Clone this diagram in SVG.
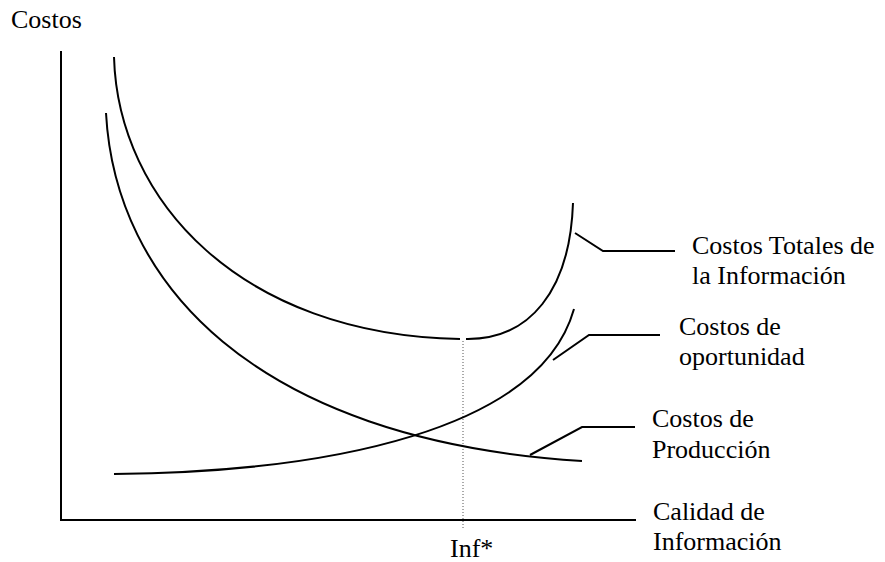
<svg xmlns="http://www.w3.org/2000/svg" width="885" height="562" viewBox="0 0 885 562">
<style>
.t{font-family:"Liberation Serif","Times New Roman",serif;font-size:26px;fill:#000}
.c{fill:none;stroke:#000;stroke-width:2}
.l{fill:none;stroke:#000;stroke-width:2}
</style>
<rect width="885" height="562" fill="#fff"/>
<g id="axes">
<path class="c" d="M61 51 V520 H636"/>
<text class="t" x="11" y="28">Costos</text>
</g>
<g id="connectors">
<path class="l" d="M575 233 L603 251 H675"/>
<path class="l" d="M553 360 L589 335 H660"/>
<path class="l" d="M530 455 L582 427 H635"/>
<path d="M463 341 V530" fill="none" stroke="#555" stroke-width="1" stroke-dasharray="1,2"/>
</g>
<g id="costos-totales">
<path class="c" d="M114 57 C118 200 240 335 460 339"/>
<path class="c" d="M466 339 C530 340 570 290 573 203"/>
<text class="t" x="692" y="254">Costos Totales de</text>
<text class="t" x="692" y="284">la Información</text>
</g>
<g id="costos-oportunidad">
<path class="c" d="M114 474 C330 472 540 430 574 309"/>
<text class="t" x="679" y="335">Costos de</text>
<text class="t" x="679" y="365">oportunidad</text>
</g>
<g id="costos-produccion">
<path class="c" d="M106 113 C115 280 250 440 582 461"/>
<text class="t" x="652" y="427">Costos de</text>
<text class="t" x="652" y="458">Producción</text>
</g>
<g id="calidad">
<text class="t" x="653" y="520">Calidad de</text>
<text class="t" x="653" y="550">Información</text>
<text class="t" x="450" y="557">Inf*</text>
</g>
</svg>
